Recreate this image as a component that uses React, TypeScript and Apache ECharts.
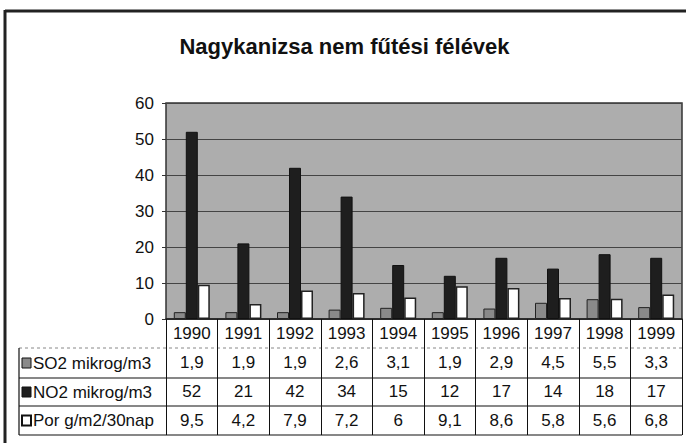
import React, { useEffect, useRef } from "react";
import * as echarts from "echarts";

const years = ["1990", "1991", "1992", "1993", "1994", "1995", "1996", "1997", "1998", "1999"];
const so2 = [1.9, 1.9, 1.9, 2.6, 3.1, 1.9, 2.9, 4.5, 5.5, 3.3];
const no2 = [52, 21, 42, 34, 15, 12, 17, 14, 18, 17];
const por = [9.5, 4.2, 7.9, 7.2, 6, 9.1, 8.6, 5.8, 5.6, 6.8];
const seriesNames = ["SO2 mikrog/m3", "NO2 mikrog/m3", "Por g/m2/30nap"];
const titleText = "Nagykanizsa nem fűtési félévek";

const FONT = "'Liberation Sans', Arial, sans-serif";
const fmt = (v: number) => String(v).replace(".", ",");

export default function App() {
  const ref = useRef<HTMLDivElement>(null);
  useEffect(() => {
    if (!ref.current) return;
    const chart = echarts.init(ref.current, null, { renderer: "svg" });
    const W = 689;
    const gridLeft = 166;
    const gridRight = 682;
    const gridTop = 103;
    const gridBottom = 319;
    const tableLeft = 19;
    const rowLines = [348, 378, 406, 435];
    const rowCenters = [363, 392, 420.5];
    const swatchFill = ["#8a8a8a", "#1e1e1e", "#ffffff"];

    const graphics: any[] = [
      // outer frame
      { type: "line", shape: { x1: 5, y1: 11, x2: 686, y2: 11 }, style: { stroke: "#222", lineWidth: 3 } },
      { type: "line", shape: { x1: 5, y1: 10, x2: 5, y2: 443 }, style: { stroke: "#222", lineWidth: 3 } },
      // table lines
      { type: "line", shape: { x1: tableLeft, y1: rowLines[0], x2: gridRight, y2: rowLines[0] }, style: { stroke: "#888", lineWidth: 1, lineDash: [3, 3] } },
      { type: "line", shape: { x1: tableLeft, y1: rowLines[1], x2: gridRight, y2: rowLines[1] }, style: { stroke: "#111", lineWidth: 1.2 } },
      { type: "line", shape: { x1: tableLeft, y1: rowLines[2], x2: gridRight, y2: rowLines[2] }, style: { stroke: "#111", lineWidth: 1.2 } },
      { type: "line", shape: { x1: tableLeft, y1: rowLines[3], x2: gridRight, y2: rowLines[3] }, style: { stroke: "#111", lineWidth: 1.2 } },
      { type: "line", shape: { x1: tableLeft, y1: rowLines[0], x2: tableLeft, y2: rowLines[3] }, style: { stroke: "#111", lineWidth: 1.2 } },
    ];
    seriesNames.forEach((name, i) => {
      const cy = rowCenters[i];
      graphics.push({
        type: "rect",
        shape: { x: 22, y: cy - 5, width: 9, height: 10 },
        style: { fill: swatchFill[i], stroke: "#111", lineWidth: i === 2 ? 2 : 1 },
      });
      graphics.push({
        type: "text",
        x: 33,
        y: cy,
        style: { text: name, font: `17px ${FONT}`, fill: "#111", textVerticalAlign: "middle", textAlign: "left" },
      });
    });

    chart.setOption({
      animation: false,
      backgroundColor: "#ffffff",
      title: {
        text: titleText,
        left: "center",
        top: 30,
        textStyle: { fontFamily: FONT, fontSize: 22, fontWeight: "bold", color: "#111" },
      },
      grid: {
        left: gridLeft,
        right: W - gridRight,
        top: gridTop,
        bottom: 443 - gridBottom,
        show: true,
        backgroundColor: "#adadad",
        borderColor: "#333",
        borderWidth: 1.5,
        containLabel: false,
      },
      xAxis: {
        type: "category",
        data: years,
        axisLine: { show: true, lineStyle: { color: "#222", width: 1.5 } },
        axisTick: { show: true, length: 116, lineStyle: { color: "#111", width: 1 } },
        axisLabel: {
          interval: 0,
          margin: 0,
          fontFamily: FONT,
          fontSize: 17,
          color: "#111",
          lineHeight: 29,
          formatter: (v: string, idx: number) => `${v}\n${fmt(so2[idx])}\n${fmt(no2[idx])}\n${fmt(por[idx])}`,
        },
      },
      yAxis: {
        type: "value",
        min: 0,
        max: 60,
        interval: 10,
        axisLine: { show: false },
        axisTick: { show: true, length: 4, lineStyle: { color: "#333" } },
        axisLabel: { fontFamily: FONT, fontSize: 17, color: "#111", margin: 12 },
        splitLine: { show: true, lineStyle: { color: "#444", width: 1.2 } },
      },
      series: [
        {
          name: seriesNames[0],
          type: "bar",
          data: so2,
          barWidth: 12,
          barGap: "0%",
          itemStyle: { color: "#8a8a8a", borderColor: "#222", borderWidth: 1 },
        },
        {
          name: seriesNames[1],
          type: "bar",
          data: no2,
          barWidth: 12,
          barGap: "0%",
          itemStyle: { color: "#1e1e1e", borderColor: "#111", borderWidth: 1 },
        },
        {
          name: seriesNames[2],
          type: "bar",
          data: por,
          barWidth: 12,
          barGap: "0%",
          itemStyle: { color: "#ffffff", borderColor: "#222", borderWidth: 1.5 },
        },
      ],
      graphic: graphics,
    });
    return () => chart.dispose();
  }, []);
  return <div ref={ref} style={{ position: "fixed", left: 0, top: 0, width: 689, height: 443 }} />;
}
